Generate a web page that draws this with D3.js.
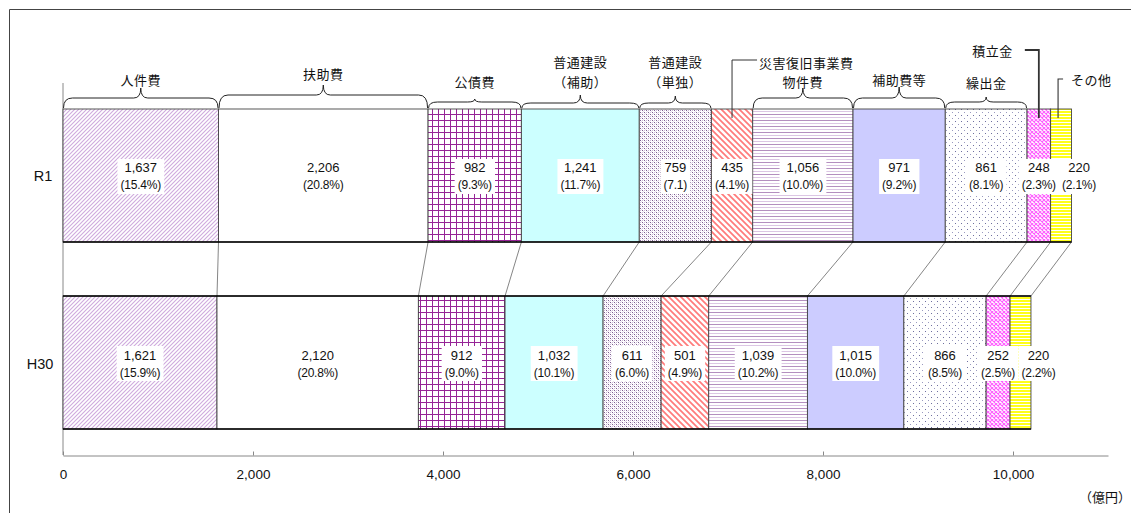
<!DOCTYPE html>
<html><head><meta charset="utf-8">
<script src="https://cdn.jsdelivr.net/npm/d3@7"></script>
<style>
html,body{margin:0;padding:0;background:#fff;}
svg{display:block;}
</style></head>
<body>
<svg id="chart" width="1131" height="513"></svg>
<script>
// ---- data ----
const categories = ["人件費","扶助費","公債費","普通建設（補助）","普通建設（単独）","災害復旧事業費","物件費","補助費等","繰出金","積立金","その他"];
const headerLines = [["人件費"],["扶助費"],["公債費"],["普通建設","（補助）"],["普通建設","（単独）"],["災害復旧事業費"],["物件費"],["補助費等"],["繰出金"],["積立金"],["その他"]];
const years = ["R1","H30"];
const valuesR1  = [1637,2206,982,1241,759,435,1056,971,861,248,220];
const valuesH30 = [1621,2120,912,1032,611,501,1039,1015,866,252,220];
const pctR1  = ["15.4%","20.8%","9.3%","11.7%","7.1","4.1%","10.0%","9.2%","8.1%","2.3%","2.1%"];
const pctH30 = ["15.9%","20.8%","9.0%","10.1%","6.0%","4.9%","10.2%","10.0%","8.5%","2.5%","2.2%"];
const xTicks = [0,2000,4000,6000,8000,10000];
const unitLabel = "（億円）";

// ---- layout / style ----
const svg = d3.select("#chart");
const x = d3.scaleLinear().domain([0,11000]).range([63,1108]);
const y = d3.scaleBand().domain(years).range([83,455]).paddingInner(0.289).paddingOuter(0.139);
const jp = "'Noto Sans CJK JP','Noto Sans',sans-serif";
const latin = "'Liberation Sans',Arial,sans-serif";

const defs = svg.append("defs");
function pat(id,w,h,build){
  const p = defs.append("pattern").attr("id",id).attr("patternUnits","userSpaceOnUse").attr("width",w).attr("height",h);
  p.append("rect").attr("width",w).attr("height",h).attr("fill","#fff");
  build(p); return `url(#${id})`;
}
const fills = [
  pat("p0",4,4,p=>p.append("path").attr("d","M-1,1 l2,-2 M0,4 l4,-4 M3,5 l2,-2").attr("stroke","#cfaade").attr("stroke-width",1.1)),
  "#ffffff",
  pat("p2",6,6,p=>p.append("path").attr("d","M0.5,0 V6 M0,0.5 H6").attr("stroke","#962496").attr("stroke-width",1).attr("shape-rendering","crispEdges")),
  "#ccffff",
  pat("p4",4,4,p=>{
    [[0,0,"#7d5f90"],[2,2,"#7d5f90"],[2,0,"#cdb8d8"],[0,2,"#cdb8d8"],[1,1,"#e6dcec"],[3,3,"#e6dcec"]].forEach(d=>p.append("rect").attr("x",d[0]).attr("y",d[1]).attr("width",1).attr("height",1).attr("fill",d[2]));
  }),
  pat("p5",6,6,p=>p.append("path").attr("d","M0,0 l6,6 M-1,5 l2,2 M5,-1 l2,2").attr("stroke","#ff7b7b").attr("stroke-width",1.7)),
  pat("p6",4,6,p=>{
    p.append("rect").attr("y",0).attr("width",4).attr("height",1).attr("fill","#b48fbf");
    p.append("rect").attr("y",3).attr("width",4).attr("height",1).attr("fill","#dcc6e4");
  }),
  "#ccccff",
  pat("p8",6,6,p=>{
    p.append("rect").attr("x",1).attr("y",1).attr("width",1).attr("height",1).attr("fill","#6f6f9f");
    p.append("rect").attr("x",4).attr("y",4).attr("width",1).attr("height",1).attr("fill","#9a9ac0");
  }),
  pat("p9",4,4,p=>p.append("path").attr("d","M0,0 l4,4 M4,0 l-4,4").attr("stroke","#ff5cff").attr("stroke-width",1.1)),
  pat("p10",4,3,p=>p.append("rect").attr("y",0).attr("width",4).attr("height",2).attr("fill","#ffff1a"))
];

// frame
svg.append("path").attr("d","M9.5,513 V9.5 H1131").attr("fill","none").attr("stroke","#444").attr("stroke-width",1);

// stacked data
function stack(vals){ let c=0; return vals.map((v,i)=>{const s={i,v,x0:c,x1:c+v}; c+=v; return s;}); }
const rows = [{year:"R1",segs:stack(valuesR1),pct:pctR1},{year:"H30",segs:stack(valuesH30),pct:pctH30}];

// axes lines
svg.append("line").attr("x1",x(0)).attr("x2",x(0)).attr("y1",83).attr("y2",455).attr("stroke","#888").attr("stroke-width",1);
const xAxis = d3.axisBottom(x).tickValues(xTicks).tickSize(0).tickPadding(0).tickFormat(d3.format(","));
const gx = svg.append("g").attr("transform","translate(0,455.5)").call(xAxis);
gx.select(".domain").attr("stroke","#888");
gx.selectAll(".tick text").attr("dy","0").attr("y",23).attr("font-family",latin).attr("font-size",13.5).attr("fill","#111");
gx.selectAll(".tick").append("line").attr("y1",-4).attr("y2",0).attr("stroke","#888");
svg.append("text").attr("x",1131).attr("y",502).attr("text-anchor","end").attr("font-family",jp).attr("font-size",13).attr("fill","#111").text(unitLabel);

// year labels
years.forEach(yr=>{
  svg.append("text").attr("x",yr==="R1"?43:40).attr("y",y(yr)+y.bandwidth()/2+1).attr("text-anchor","middle").attr("dominant-baseline","central")
    .attr("font-family",latin).attr("font-size",14.5).attr("fill","#111").text(yr);
});

// connectors
const r1 = rows[0].segs, h30 = rows[1].segs;
r1.forEach((s,i)=>{
  svg.append("line").attr("x1",x(s.x1)).attr("y1",y("R1")+y.bandwidth()).attr("x2",x(h30[i].x1)).attr("y2",y("H30"))
    .attr("stroke","#666").attr("stroke-width",0.8);
});

// bars
rows.forEach(row=>{
  const g = svg.append("g");
  g.selectAll("rect").data(row.segs).join("rect")
    .attr("x",d=>x(d.x0)).attr("width",d=>x(d.x1)-x(d.x0))
    .attr("y",y(row.year)).attr("height",y.bandwidth())
    .attr("fill",d=>fills[d.i]).attr("stroke","#444").attr("stroke-width",0.9);
  const tot = row.segs[row.segs.length-1].x1;
  const yb = y(row.year)+y.bandwidth();
  g.append("line").attr("x1",x(0)).attr("x2",x(tot)).attr("y1",yb).attr("y2",yb).attr("stroke","#000").attr("stroke-width",1.4);
  if(row.year==="H30") g.append("line").attr("x1",x(0)).attr("x2",x(tot)).attr("y1",y(row.year)).attr("y2",y(row.year)).attr("stroke","#000").attr("stroke-width",1.4);
});

// value labels
rows.forEach(row=>{
  const cy = y(row.year)+y.bandwidth()/2;
  row.segs.forEach(s=>{
    let cx = (x(s.x0)+x(s.x1))/2;
    if(s.i===categories.length-1) cx += 18;
    const g = svg.append("g");
    const t1 = g.append("text").attr("x",cx).attr("y",cy-7.5).attr("text-anchor","middle").attr("dominant-baseline","central")
      .attr("font-family",latin).attr("font-size",13).attr("fill","#111").text(d3.format(",")(s.v));
    const t2 = g.append("text").attr("x",cx).attr("y",cy+10).attr("text-anchor","middle").attr("dominant-baseline","central")
      .attr("font-family",latin).attr("font-size",12).attr("letter-spacing",-0.2).attr("fill","#111").text("(" + row.pct[s.i] + ")");
    const b1 = t1.node().getBBox(), b2 = t2.node().getBBox();
    const x0 = Math.min(b1.x,b2.x)-3, x1 = Math.max(b1.x+b1.width,b2.x+b2.width)+3;
    g.insert("rect","text").attr("x",x0).attr("y",b1.y-1.5).attr("width",x1-x0).attr("height",b2.y+b2.height-b1.y+3).attr("fill","#fff");
  });
});

// header annotations
const headerLayout = [
  {type:"brace",flat:98,peak:88,textY:[79]},
  {type:"brace",flat:95,peak:85,textY:[73]},
  {type:"brace",flat:102,peak:99,textY:[81]},
  {type:"brace",flat:103,peak:95,textY:[61,81]},
  {type:"brace",flat:103,peak:96,textY:[61,81]},
  {type:"callout",side:"right",lineY:60,dx:27,hx:25,textY:62,width:1},
  {type:"brace",flat:98,peak:88,textY:[81]},
  {type:"brace",flat:98,peak:87,textY:[79]},
  {type:"brace",flat:102,peak:97,textY:[82]},
  {type:"callout",side:"left",lineY:50,dx:-26,hx:-14,textY:50,width:1.8},
  {type:"callout",side:"right",lineY:79,dx:13,hx:5,textY:79,width:1.1,shift:-3}
];
const topY = y("R1");
function bracePath(x0,x1,yb,yf,yp){
  const xm=(x0+x1)/2, r=Math.min(9,(x1-x0)/6), r2=Math.min(7,(x1-x0)/8);
  return `M${x0},${yb} Q${x0},${yf} ${x0+r},${yf} L${xm-r2},${yf} Q${xm},${yf} ${xm},${yp} Q${xm},${yf} ${xm+r2},${yf} L${x1-r},${yf} Q${x1},${yf} ${x1},${yb}`;
}
r1.forEach((s,i)=>{
  const L = headerLayout[i];
  const xa = x(s.x0), xb = x(s.x1), xm=(xa+xb)/2;
  if(L.type==="brace"){
    svg.append("path").attr("d",bracePath(xa+0.5,xb-0.5,topY-1,L.flat,L.peak)).attr("fill","none").attr("stroke","#222").attr("stroke-width",1);
    headerLines[i].forEach((ln,k)=>{
      svg.append("text").attr("x",xm).attr("y",L.textY[k]).attr("text-anchor","middle").attr("dominant-baseline","central")
        .attr("font-family",jp).attr("font-size",13).attr("letter-spacing",0.5).attr("fill","#111").text(ln);
    });
  } else {
    const vx = xm + (L.shift||0);
    svg.append("path").attr("d",`M${vx+L.hx},${L.lineY} H${vx} V${topY+9}`).attr("fill","none").attr("stroke","#333").attr("stroke-width",L.width);
    svg.append("text").attr("x",vx+L.dx).attr("y",L.textY).attr("text-anchor",L.side==="right"?"start":"end").attr("dominant-baseline","central")
      .attr("font-family",jp).attr("font-size",13).attr("letter-spacing",0.5).attr("fill","#111").text(headerLines[i][0]);
  }
});
</script>
</body></html>
